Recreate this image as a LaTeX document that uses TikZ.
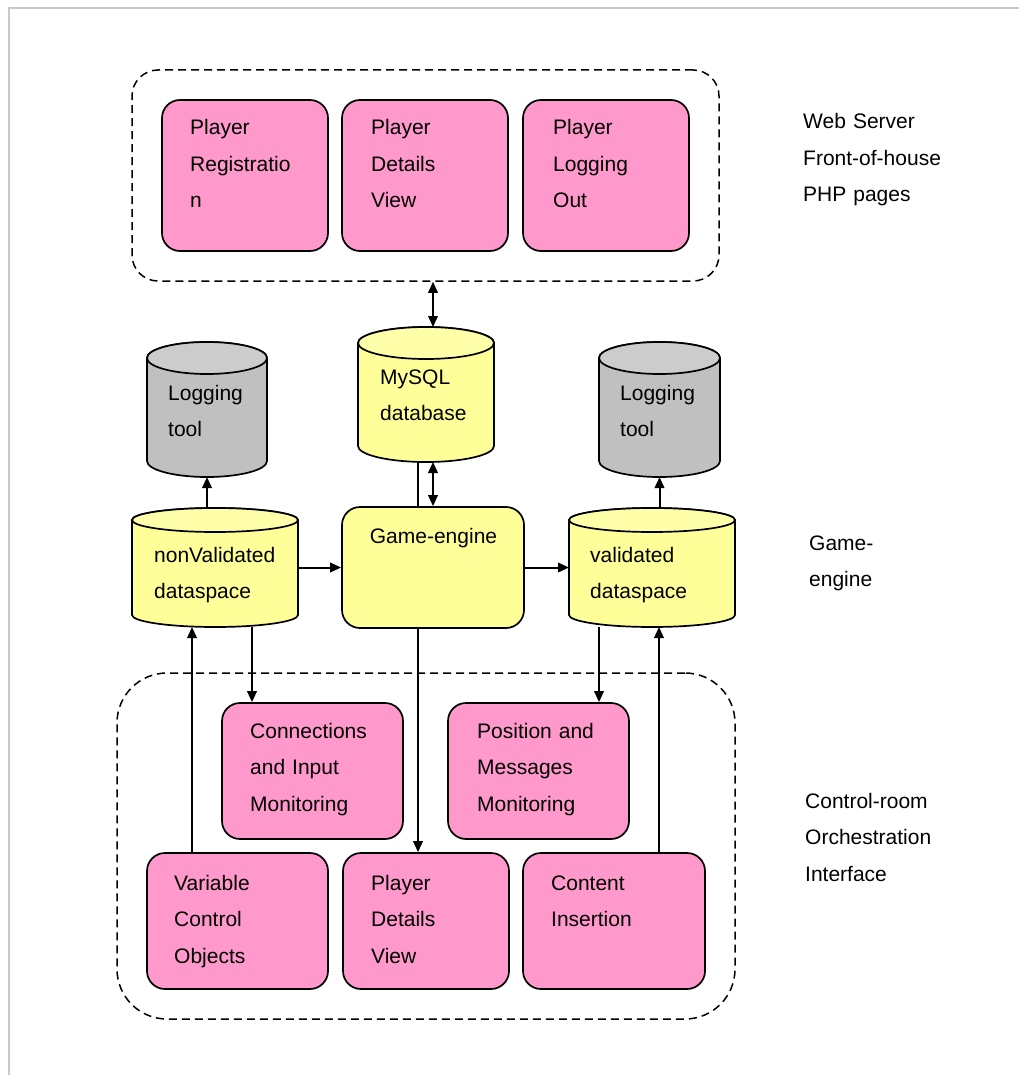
\documentclass[tikz,border=0pt]{standalone}
\usepackage{fontspec}
\setmainfont{Liberation Sans}
\usetikzlibrary{arrows.meta,backgrounds}
\definecolor{pinkfill}{HTML}{FF99CC}
\definecolor{yellowfill}{HTML}{FFFF99}
\definecolor{yellowtop}{HTML}{FFFFAA}
\definecolor{grayfill}{HTML}{C0C0C0}
\definecolor{graytop}{HTML}{CCCCCC}
\definecolor{framegray}{HTML}{C8C8C8}
\newcommand{\drawcyl}[8]{%
  \node[inner sep=0pt, outer sep=0pt, minimum width=#4-#2, minimum height=#5-#3] (#1) at ({(#2+#4)/2},{(#3+#5)/2}) {};
  \filldraw[fill=#7, line width=1.7pt] (#2,{#3+#6}) -- (#2,{#5-#6})
    arc[start angle=180, end angle=360, x radius={(#4pt-#2pt)/2}, y radius=#6pt]
    -- (#4,{#3+#6})
    arc[start angle=0, end angle=180, x radius={(#4pt-#2pt)/2}, y radius=#6pt] -- cycle;
  \filldraw[fill=#8, line width=1.7pt] ({(#2+#4)/2},{#3+#6}) ellipse[x radius={(#4pt-#2pt)/2}, y radius=#6pt];
}
\begin{document}
\begin{tikzpicture}[x=1pt, y=-1pt,
  groupbox/.style={draw, rectangle, dash pattern=on 8pt off 5pt, line width=1.5pt, inner sep=0pt},
  pinkbox/.style={draw, rectangle, rounded corners=18pt, fill=pinkfill, line width=1.7pt, inner sep=0pt},
  yellowbox/.style={draw, rectangle, rounded corners=18pt, fill=yellowfill, line width=1.7pt, inner sep=0pt},
  txt/.style={anchor=base west, align=left, text width=175pt, inner sep=0pt, font=\fontsize{21}{36.5}\selectfont},
  conn/.style={line width=2pt, >={Triangle[length=11pt,width=9.5pt]}}
]
\useasboundingbox (0,0) rectangle (1019,1075);
\draw[framegray, line width=2pt] (9,1075) -- (9,8) -- (1019,8);

% group boxes
\node[groupbox, rounded corners=26pt, minimum width=587, minimum height=211] (web) at (425.5,175.5) {};
\node[groupbox, rounded corners=50pt, minimum width=618, minimum height=346] (ctrl) at (426,846) {};

% top pink boxes
\node[pinkbox, minimum width=166, minimum height=151] (reg) at (245,175.5) {};
\node[pinkbox, minimum width=166, minimum height=151] (det) at (425,175.5) {};
\node[pinkbox, minimum width=166, minimum height=151] (out) at (606,175.5) {};
\node[txt] (regT) at (190,135) {Player\\Registratio\\n};
\node[txt] (detT) at (371,135) {Player\\Details\\View};
\node[txt] (outT) at (553,135) {Player\\Logging\\Out};

% cylinders
\drawcyl{logL}{147}{342}{267}{477}{16}{grayfill}{graytop}
\drawcyl{mysql}{358}{327}{494}{462}{16}{yellowfill}{yellowtop}
\drawcyl{logR}{599}{342}{720}{477}{16}{grayfill}{graytop}
\drawcyl{nv}{132}{508}{298}{627}{12}{yellowfill}{yellowtop}
\drawcyl{val}{569}{508}{735}{627}{12}{yellowfill}{yellowtop}
\node[txt] (logLT) at (168,400) {Logging\\tool};
\node[txt] (mysqlT) at (380,384) {MySQL\\database};
\node[txt] (logRT) at (620,400) {Logging\\tool};
\node[txt] (nvT) at (154,562) {nonValidated\\dataspace};
\node[txt] (valT) at (590,562) {validated\\dataspace};

% game engine
\node[yellowbox, minimum width=182, minimum height=121] (ge) at (433,567.5) {};
\node[anchor=base, inner sep=0pt, font=\fontsize{21}{36.5}\selectfont] (geT) at (433.5,543) {Game-engine};

% bottom pink boxes
\node[pinkbox, minimum width=181, minimum height=136] (cim) at (312.5,771) {};
\node[pinkbox, minimum width=181, minimum height=136] (pmm) at (538.5,771) {};
\node[pinkbox, minimum width=181, minimum height=136] (vco) at (237.5,921) {};
\node[pinkbox, minimum width=166, minimum height=136] (pdv) at (426,921) {};
\node[pinkbox, minimum width=182, minimum height=136] (ci) at (614,921) {};
\node[txt] (cimT) at (250,738) {Connections\\and Input\\Monitoring};
\node[txt] (pmmT) at (477,738) {Position and\\Messages\\Monitoring};
\node[txt] (vcoT) at (174,890) {Variable\\Control\\Objects};
\node[txt] (pdvT) at (371,890) {Player\\Details\\View};
\node[txt] (ciT) at (551,890) {Content\\Insertion};

% side labels
\node[txt] (webL) at (803,129) {Web Server\\Front-of-house\\PHP pages};
\node[txt] (geL) at (809,550) {Game-\\engine};
\node[txt] (ctrlL) at (805,808) {Control-room\\Orchestration\\Interface};

% connectors
\begin{pgfonlayer}{background}
\draw[conn, <->] (web.south -| ge.north) -- (mysql.north -| ge.north);
\draw[conn, <->] (mysql.south -| ge.north) -- (ge.north);
\draw[conn, ->] ([xshift=-8pt]mysql.south) -- ([xshift=-8pt]pdv.north);
\draw[conn, ->] (nv.north -| logL.south) -- (logL.south);
\draw[conn, ->] (val.north -| logR.south) -- (logR.south);
\draw[conn, ->] (nv.east |- ge.west) -- (ge.west);
\draw[conn, ->] (ge.east) -- (val.west |- ge.east);
\draw[conn, ->] ([xshift=-45.5pt]vco.north) -- ([xshift=-23pt]nv.south);
\draw[conn, ->] ([xshift=37pt]nv.south) -- ([xshift=-60.5pt]cim.north);
\draw[conn, ->] ([xshift=-53pt]val.south) -- ([xshift=60.5pt]pmm.north);
\draw[conn, ->] ([xshift=45pt]ci.north) -- ([xshift=7pt]val.south);
\end{pgfonlayer}
\end{tikzpicture}
\end{document}
